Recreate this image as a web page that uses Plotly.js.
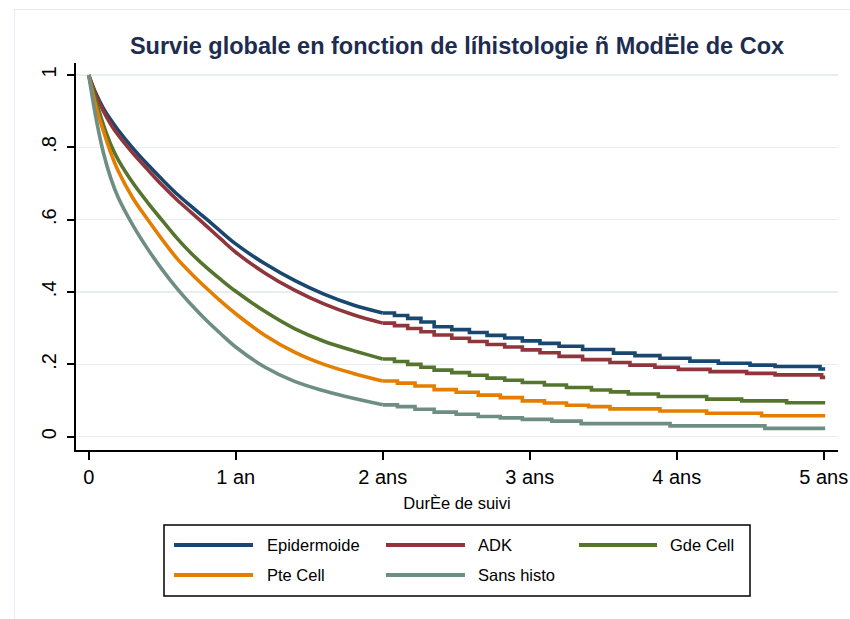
<!DOCTYPE html>
<html>
<head>
<meta charset="utf-8">
<script src="https://cdn.plot.ly/plotly-3.0.1.min.js"></script>
<style>
  html, body { margin: 0; padding: 0; background: #fff; overflow: hidden; }
  #wrap { position: relative; width: 850px; height: 619px; }
  #chart { position: absolute; left: 0; top: 0; width: 850px; height: 619px; }
  #frame { position: absolute; left: 14px; top: 9px; width: 900px; height: 700px;
           border: 1px solid #e7eef1; pointer-events: none; box-sizing: border-box; }
</style>
</head>
<body>
<div id="wrap">
  <div id="chart"></div>
  <div id="frame"></div>
</div>
<script>
// Estimated survival by histology (Cox model), time in years of follow-up.
const seriesNames = ["Epidermoide", "ADK", "Gde Cell", "Pte Cell", "Sans histo"];
const seriesColors = ["#1a476f", "#90353b", "#55752f", "#e37e00", "#6e8e84"];

// First two years: shared time grid, curve drawn as a continuous line
const earlyYears = [0, 0.05, 0.1, 0.15, 0.2, 0.3, 0.4, 0.5, 0.6, 0.7, 0.8, 0.9, 1.0, 1.2, 1.4, 1.6, 1.8, 2.0];
const epidermoideEarly = [1, 0.948, 0.908, 0.876, 0.848, 0.798, 0.753, 0.711, 0.671, 0.636, 0.602, 0.567, 0.533, 0.478, 0.432, 0.394, 0.364, 0.342];
const adkEarly         = [1, 0.944, 0.900, 0.864, 0.834, 0.784, 0.739, 0.695, 0.655, 0.619, 0.583, 0.546, 0.510, 0.452, 0.405, 0.367, 0.337, 0.314];
const gdeCellEarly     = [1, 0.928, 0.862, 0.808, 0.766, 0.702, 0.648, 0.598, 0.549, 0.506, 0.468, 0.434, 0.402, 0.346, 0.299, 0.264, 0.238, 0.215];
const pteCellEarly     = [1, 0.912, 0.845, 0.785, 0.735, 0.660, 0.601, 0.545, 0.493, 0.450, 0.411, 0.374, 0.340, 0.280, 0.234, 0.200, 0.175, 0.154];
const sansHistoEarly   = [1, 0.880, 0.785, 0.715, 0.662, 0.585, 0.520, 0.462, 0.410, 0.364, 0.322, 0.284, 0.248, 0.192, 0.153, 0.127, 0.106, 0.088];

// After two years: step times and survival values
const epidermoideStepYears = [2.08, 2.17, 2.26, 2.35, 2.47, 2.59, 2.71, 2.83, 2.95, 3.07, 3.2, 3.36, 3.57, 3.716, 3.886, 4.09, 4.283, 4.499, 4.669, 4.975, 5.01];
const epidermoideStepSurv  = [0.335, 0.327, 0.317, 0.304, 0.296, 0.288, 0.280, 0.273, 0.265, 0.258, 0.250, 0.241, 0.231, 0.224, 0.217, 0.209, 0.203, 0.198, 0.194, 0.187, 0.187];
const adkStepYears = [2.08, 2.17, 2.26, 2.35, 2.47, 2.59, 2.71, 2.83, 2.95, 3.07, 3.2, 3.36, 3.546, 3.682, 3.852, 4.011, 4.227, 4.476, 4.669, 4.986, 5.01];
const adkStepSurv  = [0.307, 0.299, 0.290, 0.281, 0.272, 0.263, 0.255, 0.248, 0.240, 0.232, 0.222, 0.213, 0.205, 0.198, 0.192, 0.186, 0.180, 0.175, 0.171, 0.164, 0.164];
const gdeCellStepYears = [2.08, 2.17, 2.26, 2.35, 2.47, 2.59, 2.71, 2.83, 2.95, 3.1, 3.25, 3.42, 3.55, 3.671, 3.875, 4.204, 4.442, 4.748, 5.01];
const gdeCellStepSurv  = [0.208, 0.200, 0.192, 0.184, 0.177, 0.170, 0.162, 0.156, 0.150, 0.143, 0.136, 0.129, 0.124, 0.118, 0.111, 0.104, 0.099, 0.094, 0.094];
const pteCellStepYears = [2.1, 2.22, 2.35, 2.5, 2.65, 2.8, 2.95, 3.1, 3.25, 3.4, 3.546, 3.886, 4.204, 4.578, 5.01];
const pteCellStepSurv  = [0.148, 0.140, 0.130, 0.123, 0.115, 0.108, 0.099, 0.093, 0.087, 0.083, 0.077, 0.071, 0.065, 0.058, 0.058];
const sansHistoStepYears = [2.1, 2.22, 2.35, 2.5, 2.65, 2.8, 2.95, 3.15, 3.35, 3.955, 4.60, 5.01];
const sansHistoStepSurv  = [0.083, 0.076, 0.068, 0.062, 0.056, 0.052, 0.048, 0.043, 0.036, 0.030, 0.023, 0.023];

const xTickValues = [0, 1, 2, 3, 4, 5];
const xTickLabels = ["0", "1 an", "2 ans", "3 ans", "4 ans", "5 ans"];
const yTickValues = [0, 0.2, 0.4, 0.6, 0.8, 1];
const yTickLabels = ["0", ".2", ".4", ".6", ".8", "1"];

const titleText = "Survie globale en fonction de líhistologie ñ ModËle de Cox";
const xTitleText = "DurÈe de suivi";

const earlyCurves = [epidermoideEarly, adkEarly, gdeCellEarly, pteCellEarly, sansHistoEarly];
const stepYears = [epidermoideStepYears, adkStepYears, gdeCellStepYears, pteCellStepYears, sansHistoStepYears];
const stepSurv = [epidermoideStepSurv, adkStepSurv, gdeCellStepSurv, pteCellStepSurv, sansHistoStepSurv];

const FONT = "Liberation Sans, Arial, Helvetica, sans-serif";
const W = 850, H = 619;
const M = { l: 76, r: 12, t: 63, b: 169 };
const LINE_W = 3.6;

const traces = [];
seriesNames.forEach((name, i) => {
  const early = earlyCurves[i];
  // smooth part of the curve (many small events)
  traces.push({
    type: "scatter", mode: "lines", name: name,
    x: earlyYears, y: early,
    line: { color: seriesColors[i], width: LINE_W, shape: "spline", smoothing: 1 },
    hoverinfo: "skip"
  });
  // later part: visible monthly steps
  traces.push({
    type: "scatter", mode: "lines", name: name,
    x: [earlyYears[earlyYears.length - 1]].concat(stepYears[i]),
    y: [early[early.length - 1]].concat(stepSurv[i]),
    line: { color: seriesColors[i], width: LINE_W, shape: "hv" },
    hoverinfo: "skip"
  });
});

// pixel -> paper coordinates helpers for the legend box
const plotW = W - M.l - M.r, plotH = H - M.t - M.b;
const px = v => (v - M.l) / plotW;
const py = v => (H - M.b - v) / plotH;

const shapes = [{
  type: "rect", xref: "paper", yref: "paper",
  x0: px(164), x1: px(750), y0: py(596), y1: py(525),
  line: { color: "#000", width: 1.5 }, fillcolor: "rgba(0,0,0,0)"
}];
const annotations = [];
const legendCols = [{ lx0: 174, lx1: 253, tx: 265 }, { lx0: 386, lx1: 465, tx: 476 }, { lx0: 579, lx1: 657, tx: 668 }];
const legendRows = [545, 575];
seriesNames.forEach((name, i) => {
  const c = legendCols[i % 3], r = legendRows[Math.floor(i / 3)];
  shapes.push({
    type: "line", xref: "paper", yref: "paper",
    x0: px(c.lx0), x1: px(c.lx1), y0: py(r), y1: py(r),
    line: { color: seriesColors[i], width: 4 }
  });
  annotations.push({
    xref: "paper", yref: "paper", x: px(c.tx), y: py(r),
    xanchor: "left", yanchor: "middle", showarrow: false,
    text: name, font: { family: FONT, size: 16.5, color: "#000" }
  });
});

const layout = {
  width: W, height: H,
  margin: M,
  paper_bgcolor: "#fff", plot_bgcolor: "#fff",
  showlegend: false,
  font: { family: FONT, color: "#000" },
  title: {
    text: titleText, x: 0.5, xref: "paper", xanchor: "center",
    y: 1 - 46 / H, yref: "container", yanchor: "middle",
    font: { family: FONT, size: 23.5, color: "#1d2c4f", weight: 700 }
  },
  xaxis: {
    range: [-0.0864, 5.0973],
    tickvals: xTickValues, ticktext: xTickLabels,
    showline: true, linecolor: "#000", linewidth: 2,
    ticks: "outside", ticklen: 8, tickwidth: 2, tickcolor: "#000",
    showgrid: false, zeroline: false,
    tickfont: { family: FONT, size: 20, color: "#000" },
    title: { text: xTitleText, font: { family: FONT, size: 16.5, color: "#000" }, standoff: 10 }
  },
  yaxis: {
    range: [-0.0368, 1.0332],
    tickvals: yTickValues, ticktext: yTickLabels, tickangle: -90,
    showline: true, linecolor: "#000", linewidth: 2,
    ticks: "outside", ticklen: 7, tickwidth: 2, tickcolor: "#000",
    ticklabelstandoff: 3,
    showgrid: true, gridcolor: "#e6eef1", gridwidth: 1.5, zeroline: false,
    tickfont: { family: FONT, size: 20, color: "#000" }
  },
  shapes: shapes,
  annotations: annotations
};

Plotly.newPlot("chart", traces, layout, { displayModeBar: false, staticPlot: true });
</script>
</body>
</html>
